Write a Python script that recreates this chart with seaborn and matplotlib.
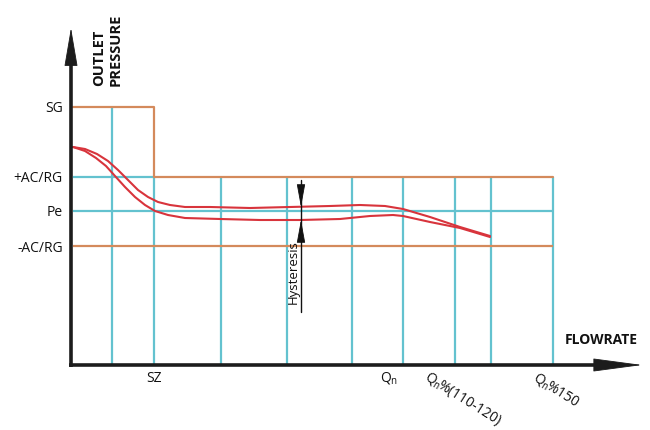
import matplotlib
matplotlib.use("Agg")
import matplotlib.pyplot as plt
import pandas as pd
import seaborn as sns

# pressure levels (axis units, origin at the axes corner)
level_names = ["SG", "+AC/RG", "Pe", "-AC/RG"]
level_values = [258, 188, 154, 119]

# flow positions of the vertical grid lines
grid_flow = [41, 83, 150, 216, 281, 332, 384, 420, 482]
sz_flow = 83
hyst_flow = 230

# outlet pressure curves (rising and falling branch)
upper_x = [2, 14, 26, 37, 47, 57, 67, 77, 87, 99, 114, 139, 179, 219, 259,
           289, 314, 332, 359, 389, 419]
upper_y = [218, 216, 211, 204, 195, 185, 175, 168, 163, 160, 158, 158, 157,
           158, 159, 160, 159, 156, 148, 138, 129]
lower_x = [2, 14, 25, 35, 44, 54, 64, 74, 84, 97, 114, 149, 189, 229, 269,
           299, 322, 332, 359, 389, 419]
lower_y = [218, 214, 207, 199, 189, 178, 168, 160, 154, 150, 147, 146, 145,
           145, 146, 149, 150, 149, 143, 137, 128]

CYAN = "#63c2cf"
ORANGE = "#d48a5c"
RED = "#d8343c"
AXIS = "#1c1c1c"
INK = "#111111"

sns.set_theme(style="white")
plt.rcParams["font.family"] = ["Open Sans", "DejaVu Sans"]
plt.rcParams["mathtext.fontset"] = "custom"
plt.rcParams["mathtext.rm"] = "Open Sans"
plt.rcParams["mathtext.it"] = "Open Sans"

fig = plt.figure(figsize=(6.5, 4.3), dpi=100)
ax = fig.add_axes([71 / 650, 65 / 430, 579 / 650, 365 / 430])
ax.set_xlim(0, 579)
ax.set_ylim(0, 365)
sns.despine(ax=ax, left=True, bottom=True)

sg, ac_hi, pe, ac_lo = level_values
x_end = grid_flow[-1]

# grid (cyan)
ax.vlines(grid_flow[0], 0, sg, color=CYAN, lw=1.6, zorder=1)
ax.vlines(grid_flow[1:], 0, ac_hi, color=CYAN, lw=1.6, zorder=1)
ax.hlines(pe, 2, x_end, color=CYAN, lw=1.6, zorder=1)
ax.hlines(ac_hi, 2, sz_flow, color=CYAN, lw=1.6, zorder=1)

# limit lines (orange)
ax.plot([2, sz_flow, sz_flow, x_end], [sg, sg, ac_hi, ac_hi],
        color=ORANGE, lw=1.6, zorder=2)
ax.hlines(ac_lo, 2, x_end, color=ORANGE, lw=1.6, zorder=2)

# curves
curves = pd.concat([
    pd.DataFrame({"flow": upper_x, "pressure": upper_y, "branch": "up"}),
    pd.DataFrame({"flow": lower_x, "pressure": lower_y, "branch": "down"}),
])
sns.lineplot(data=curves, x="flow", y="pressure", units="branch",
             estimator=None, sort=False, color=RED, lw=1.5, ax=ax, zorder=3)
ax.set(xlabel="", ylabel="")

# y tick labels
ax.set_yticks(level_values, level_names)
ax.set_xticks([])
ax.tick_params(axis="y", length=0, pad=6, labelsize=10, labelcolor=INK)

# axes with arrows
ax.plot([0, 0], [-2, 310], color=AXIS, lw=2.6, solid_capstyle="butt",
        clip_on=False, zorder=5)
ax.plot([-2, 540], [0, 0], color=AXIS, lw=2.6, solid_capstyle="butt",
        clip_on=False, zorder=5)
ax.annotate("", xy=(0, 337), xytext=(0, 300),
            arrowprops=dict(arrowstyle="-|>,head_length=2.1,head_width=0.36",
                            color=AXIS, lw=0.6, shrinkA=0, shrinkB=0),
            annotation_clip=False)
ax.annotate("", xy=(571, 0), xytext=(530, 0),
            arrowprops=dict(arrowstyle="-|>,head_length=2.7,head_width=0.36",
                            color=AXIS, lw=0.6, shrinkA=0, shrinkB=0),
            annotation_clip=False)

ax.text(36, 279, "OUTLET\nPRESSURE", rotation=90, rotation_mode="anchor",
        ha="left", va="center", fontsize=10.5, fontweight="bold",
        linespacing=1.25, color=INK)
ax.text(567, 25, "FLOWRATE", ha="right", va="center", fontsize=10,
        fontweight="bold", color=INK)

# hysteresis marker
ax.plot([hyst_flow, hyst_flow], [185, 53], color=INK, lw=1.0, zorder=4)
hk = dict(arrowstyle="-|>,head_length=1.2,head_width=0.22",
          color=INK, lw=0.6, shrinkA=0, shrinkB=0)
ax.annotate("", xy=(hyst_flow, upper_y[13]), xytext=(hyst_flow, 178),
            arrowprops=hk)
ax.annotate("", xy=(hyst_flow, lower_y[13]), xytext=(hyst_flow, 132),
            arrowprops=hk)
ax.text(hyst_flow - 8, 93, "Hysteresis", rotation=90, ha="center",
        va="center", fontsize=9.5, color=INK)

# flow labels
qn = r"Q$_\mathrm{n}\!$"
ax.text(sz_flow, -13, "SZ", ha="center", va="center", fontsize=10,
        color=INK)
ax.text(grid_flow[5] - 14, -13, qn, ha="center", va="center",
        fontsize=10, color=INK)
ax.text(grid_flow[6] - 25, -4, qn + "%(110-120)", rotation=-32,
        rotation_mode="anchor", ha="left", va="top", fontsize=10,
        color=INK)
ax.text(grid_flow[8] - 15, -4, qn + "%150", rotation=-32,
        rotation_mode="anchor", ha="left", va="top", fontsize=10,
        color=INK)

fig.savefig("out.png", dpi=100)
